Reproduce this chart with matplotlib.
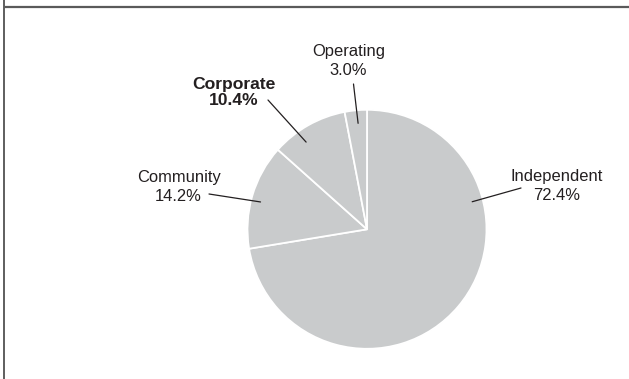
import matplotlib as mpl
import matplotlib.pyplot as plt
import numpy as np
from matplotlib.lines import Line2D

mpl.rcParams['font.family'] = ['Liberation Sans', 'DejaVu Sans']

# shares of the total, clockwise from 12 o'clock
categories = ['Independent', 'Community', 'Corporate', 'Operating']
shares = [72.4, 14.2, 10.4, 3.0]
bold = [False, False, True, False]

W, H = 629, 379
CX, CY, R = 367.0, 229.3, 119.5   # pie centre / radius in pixels (y from top)


def px(x, y):
    # pixel position (y down) -> data units of the pie axes
    return (x - CX) / R, (CY - y) / R


fig = plt.figure(figsize=(W / 100, H / 100), dpi=100)
ax = fig.add_axes([0, 0, 1, 1])

wedges, _ = ax.pie(shares, startangle=90, counterclock=False,
                   colors=['#c9cbcc'] * len(shares),
                   wedgeprops=dict(edgecolor='white', linewidth=1.3))
ax.set_aspect('auto')
ax.set_xlim(-CX / R, (W - CX) / R)
ax.set_ylim(-(H - CY) / R, CY / R)
ax.axis('off')

# label block centres and leader-line ends (pixels)
text_pos = [(556.5, 186), (178.5, 187), (233.5, 92.5), (348.5, 61)]
line_end = [(521, 188), (209, 194), (268, 100), (353.5, 84)]
# where the leader touches each wedge: angle offset from the wedge mid, radius
anchor_off = [55.0, 1.8, 5.4, -0.6]
anchor_r = [0.91, 0.92, 0.89, 0.89]

for i, w in enumerate(wedges):
    mid = (w.theta1 + w.theta2) / 2 + anchor_off[i]
    ax_pt = (anchor_r[i] * np.cos(np.radians(mid)), anchor_r[i] * np.sin(np.radians(mid)))
    ax.annotate('', xy=ax_pt, xytext=px(*line_end[i]),
                arrowprops=dict(arrowstyle='-', color='#231f20', lw=0.9,
                                shrinkA=0, shrinkB=0))
    label = '{}\n{:.1f}%'.format(categories[i], shares[i])
    if bold[i]:
        ax.text(*px(*text_pos[i]), label, ha='center', va='center',
                fontsize=12.6, fontweight='bold', color='#231f20', linespacing=1.08)
    else:
        ax.text(*px(*text_pos[i]), label, ha='center', va='center',
                fontsize=11.9, color='#231f20', linespacing=1.32)

# frame rules along the top and left edge
fig.add_artist(Line2D([6 / W, 1], [1 - 7.3 / H] * 2, color='#5a5a5a', lw=1.6,
                      transform=fig.transFigure))
fig.add_artist(Line2D([4 / W] * 2, [0, 1], color='#333333', lw=1.1,
                      transform=fig.transFigure))

fig.savefig('out.png', dpi=100)
